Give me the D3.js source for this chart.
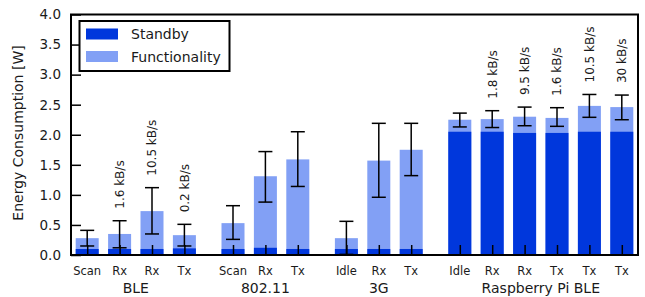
<!DOCTYPE html>
<html>
<head>
<meta charset="utf-8">
<script src="https://cdn.jsdelivr.net/npm/d3@7"></script>
<style>
  body { margin: 0; background: #fff; }
  svg text { font-family: "DejaVu Sans", sans-serif; fill: #1a1a1a; }
</style>
</head>
<body>
<svg id="chart"></svg>
<script>
// data
let groups = ["BLE", "802.11", "3G", "Raspberry Pi BLE"];
let groupOf = [0, 0, 0, 0, 1, 1, 1, 2, 2, 2, 3, 3, 3, 3, 3, 3];
let labels = ["Scan", "Rx", "Rx", "Tx", "Scan", "Rx", "Tx", "Idle", "Rx", "Tx",
  "Idle", "Rx", "Rx", "Tx", "Tx", "Tx"];
let standby = [0.10, 0.10, 0.10, 0.11, 0.10, 0.12, 0.10, 0.10, 0.10, 0.10,
  2.05, 2.05, 2.03, 2.03, 2.05, 2.05];
let total = [0.28, 0.35, 0.73, 0.33, 0.53, 1.31, 1.59, 0.28, 1.57, 1.75,
  2.25, 2.26, 2.30, 2.28, 2.48, 2.46];
let errLow = [0.15, 0.12, 0.35, 0.15, 0.26, 0.88, 1.14, 0.01, 0.96, 1.32,
  2.13, 2.12, 2.15, 2.14, 2.29, 2.25];
let errHigh = [0.41, 0.57, 1.12, 0.51, 0.82, 1.72, 2.05, 0.56, 2.19, 2.19,
  2.36, 2.40, 2.46, 2.45, 2.67, 2.66];
let rates = ["", "1.6 kB/s", "10.5 kB/s", "0.2 kB/s", "", "", "", "", "", "",
  "", "1.8 kB/s", "9.5 kB/s", "1.6 kB/s", "10.5 kB/s", "30 kB/s"];
let yTicks = [0, 0.5, 1, 1.5, 2, 2.5, 3, 3.5, 4];

let width = 645;
let height = 297;
let plotLeft = 71, plotRight = 638, plotTop = 14.5, plotBottom = 255;

let standbyColor = "#0037dc";
let funcColor = "#82a0f5";

let svg = d3.select("#chart").attr("width", width).attr("height", height);

// bar position: index plus half a slot of gap per group
let values = labels.map((l, i) => ({
  i: i,
  pos: i + 0.5 * groupOf[i],
  label: l,
  standby: standby[i],
  total: total[i],
  lo: errLow[i],
  hi: errHigh[i],
  rate: rates[i]
}));

let xScale = d3.scaleLinear().domain([-0.5, 17]).range([plotLeft, plotRight]);
let yScale = d3.scaleLinear().domain([0, 4]).range([plotBottom, plotTop]);
let barW = xScale(0.71) - xScale(0);

// functionality (full height) then standby on top
svg.append("g").selectAll("rect")
  .data(values).enter().append("rect")
  .attr("x", d => xScale(d.pos) - barW / 2)
  .attr("y", d => yScale(d.total))
  .attr("width", barW)
  .attr("height", d => yScale(0) - yScale(d.total))
  .attr("fill", funcColor);

svg.append("g").selectAll("rect")
  .data(values).enter().append("rect")
  .attr("x", d => xScale(d.pos) - barW / 2)
  .attr("y", d => yScale(d.standby))
  .attr("width", barW)
  .attr("height", d => yScale(0) - yScale(d.standby))
  .attr("fill", standbyColor);

// axes, ticks pointing inward
let yAxis = d3.axisRight(yScale).tickValues(yTicks).tickSize(10).tickFormat("");
svg.append("g").attr("transform", "translate(" + plotLeft + ",0)").call(yAxis)
  .call(g => g.select(".domain").remove())
  .call(g => g.selectAll("line").attr("stroke", "#000").attr("stroke-width", 1.5));

svg.append("g").selectAll("text")
  .data(yTicks).enter().append("text")
  .attr("x", plotLeft - 10)
  .attr("y", d => yScale(d))
  .attr("dy", "0.36em")
  .attr("text-anchor", "end")
  .style("font-size", "13.5px")
  .text(d => d3.format(".1f")(d));

let xAxis = d3.axisTop(xScale).tickValues(values.map(d => d.pos)).tickSize(10).tickFormat("");
svg.append("g").attr("transform", "translate(0," + plotBottom + ")").call(xAxis)
  .call(g => g.select(".domain").remove())
  .call(g => g.selectAll("line").attr("stroke", "#000").attr("stroke-width", 1.5));

// error bars
let err = svg.append("g").attr("stroke", "#000").attr("stroke-width", 1.5);
values.forEach(d => {
  let cx = xScale(d.pos);
  err.append("line").attr("x1", cx).attr("x2", cx).attr("y1", yScale(d.lo)).attr("y2", yScale(d.hi));
  err.append("line").attr("x1", cx - 7).attr("x2", cx + 7).attr("y1", yScale(d.lo)).attr("y2", yScale(d.lo));
  err.append("line").attr("x1", cx - 7).attr("x2", cx + 7).attr("y1", yScale(d.hi)).attr("y2", yScale(d.hi));
});

// rate labels
svg.append("g").selectAll("text")
  .data(values.filter(d => d.rate !== "")).enter().append("text")
  .attr("transform", d => "translate(" + xScale(d.pos) + "," + (yScale(d.hi) - 12) + ") rotate(-90)")
  .attr("dy", "0.36em")
  .style("font-size", "12px")
  .text(d => d.rate);

// category labels
svg.append("g").selectAll("text")
  .data(values).enter().append("text")
  .attr("x", d => xScale(d.pos))
  .attr("y", 275)
  .attr("text-anchor", "middle")
  .style("font-size", "11.5px")
  .text(d => d.label);

// group labels
svg.append("g").selectAll("text")
  .data(groups).enter().append("text")
  .attr("x", (g, gi) => {
    let ps = values.filter(d => groupOf[d.i] === gi).map(d => d.pos);
    return xScale((d3.min(ps) + d3.max(ps)) / 2);
  })
  .attr("y", 293)
  .attr("text-anchor", "middle")
  .style("font-size", "14px")
  .text(g => g);

// y title
svg.append("text")
  .attr("transform", "translate(17.5,133) rotate(-90)")
  .attr("dy", "0.36em")
  .attr("text-anchor", "middle")
  .style("font-size", "14px")
  .text("Energy Consumption [W]");

// frame
svg.append("rect")
  .attr("x", plotLeft).attr("y", plotTop)
  .attr("width", plotRight - plotLeft).attr("height", plotBottom - plotTop)
  .attr("fill", "none").attr("stroke", "#000").attr("stroke-width", 2);

// legend
let legend = svg.append("g");
legend.append("rect").attr("x", 79.5).attr("y", 21).attr("width", 150).attr("height", 50)
  .attr("fill", "#fff").attr("stroke", "#000").attr("stroke-width", 2);
let legendItems = [["Standby", standbyColor], ["Functionality", funcColor]];
legendItems.forEach((it, k) => {
  let cy = 34 + k * 22.5;
  legend.append("rect").attr("x", 86).attr("y", cy - 5.5).attr("width", 32).attr("height", 11).attr("fill", it[1]);
  legend.append("text").attr("x", 131).attr("y", cy).attr("dy", "0.36em")
    .style("font-size", "14px").text(it[0]);
});
</script>
</body>
</html>
